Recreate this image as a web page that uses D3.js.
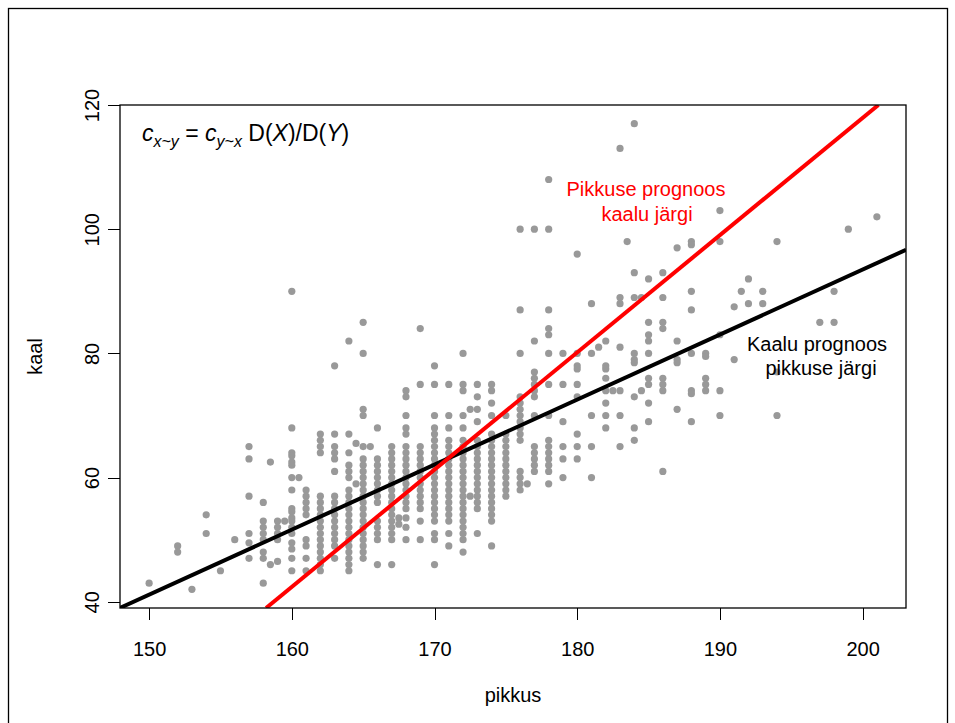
<!DOCTYPE html>
<html>
<head>
<meta charset="utf-8">
<script src="https://d3js.org/d3.v7.min.js"></script>
<style>
  html, body { margin: 0; padding: 0; background: #fff; }
  svg { display: block; }
  text { font-family: "Liberation Sans", Arial, sans-serif; fill: #000; }
  .axis text { font-size: 20px; }
  .axis line { stroke: #000; stroke-width: 1px; shape-rendering: crispEdges; }
</style>
</head>
<body>
<svg id="chart"></svg>
<script>
// heights (pikkus, cm) and the weights (kaal, kg) seen in each column
const pikkusCols = [150, 152, 153, 154, 155, 156, 157, 158, 158.5, 159, 159.5, 160, 160.5, 161, 162, 163, 164, 164.5,
  165, 165.5, 166, 167, 167.5, 168, 169, 170, 171, 172, 172.5, 173, 174, 175, 176, 176.5, 177, 178, 179, 180,
  181, 181.5, 182, 182.5, 183, 183.5, 184, 184.5, 185, 186, 187, 188, 189, 190, 191, 191.5, 192, 193, 194,
  197, 198, 199, 201];
const kaalCols = [
  [43],
  [49, 48],
  [42],
  [54, 51],
  [45],
  [50],
  [65, 63, 57, 51, 49.5, 47],
  [56, 53, 52, 51, 50, 48, 47, 43],
  [62.5, 46],
  [53, 52, 51, 50, 46.5],
  [53],
  [90, 68, 64, 63.5, 62.5, 62, 60, 58, 55, 54.5, 53.5, 53, 52, 51, 49.5, 48.5, 47, 45],
  [60],
  [58, 57, 56, 55, 54, 50, 49, 47, 45],
  [67, 66, 65, 64, 57, 56, 55, 54, 53, 52, 51, 50, 49, 48, 47, 46, 45],
  [78, 67, 65, 64, 63, 61, 57, 56, 55, 54, 53, 52, 51, 50, 49, 47],
  [82, 67, 64, 62, 61, 60, 58, 57, 56, 55, 54, 53, 52, 51, 50, 49, 48, 47, 46, 45],
  [65.5, 59],
  [85, 80, 71, 70, 65, 63, 62, 61, 60, 59, 58, 57, 56, 55, 54, 53, 52, 51, 50, 49, 48, 47],
  [65],
  [68, 63, 62, 61, 60, 59, 58, 57, 56, 53, 52, 51, 50, 46],
  [65, 64, 63, 62, 61, 60, 59, 58, 57, 56, 55, 54, 53, 52, 51, 50, 46],
  [53.5, 52.5],
  [74, 73, 70, 68, 67, 65, 64, 63, 62, 61, 60, 59, 58, 57, 56, 55, 53.5, 52, 50],
  [84, 75, 65, 64, 63, 62, 61, 60, 59, 58, 57, 56, 55, 53, 50],
  [78, 75, 70, 68, 67, 66, 65, 64, 63, 62, 61, 60, 59, 58, 57, 56, 55, 54, 53, 51, 50, 46],
  [75, 70, 68, 66, 65, 64, 63, 62, 61, 60, 59, 58, 57, 56, 55, 54, 53, 51, 49],
  [80, 75, 74, 70, 68, 66, 65, 64, 63, 62, 61, 60, 59, 58, 57, 56, 55, 54, 53, 52, 51, 50, 48],
  [71, 57],
  [75, 73, 71, 69, 66, 65, 64, 63, 62, 61, 60, 59, 58, 57, 56, 55, 51],
  [75, 74, 72, 70, 67, 66, 65, 64, 63, 62, 61, 60, 59, 58, 57, 56, 55, 54, 53, 49],
  [70, 67, 66, 65, 64, 63, 62, 61, 60, 59, 58, 57],
  [100, 87, 80, 73, 72, 71, 70, 69, 68, 67, 66, 61, 60, 59, 58],
  [59],
  [100, 82, 77, 76, 75, 74, 73, 70, 65, 64, 63, 62, 61],
  [108, 100, 87, 84, 83, 80, 75, 70, 66, 65, 64, 63, 62, 61, 59],
  [80, 75, 69, 65, 63, 60],
  [96, 80, 78, 77.5, 75, 73, 67, 65, 63],
  [88, 80, 70, 65, 60],
  [81],
  [82, 78, 77.5, 76, 74, 72, 70, 68],
  [74],
  [113, 89, 88, 81, 74, 70, 65],
  [98],
  [117, 93, 89, 80, 79, 78.5, 73, 68, 66],
  [89, 74],
  [92, 85, 83, 82, 80, 76, 75, 72, 69],
  [93, 89, 85, 84, 76, 75, 74, 61],
  [97, 82, 79, 78.5, 71],
  [98, 97.5, 90, 87, 80, 74, 73.5, 69],
  [80, 79.5, 76, 75, 74],
  [103, 98, 83, 74, 70],
  [87.5, 79],
  [90],
  [92, 88],
  [90, 88],
  [98, 77, 70],
  [85],
  [90, 85],
  [100],
  [102]
];

// fitted lines
const kaalFit = [-115.9, 1.047];     // kaal = a + b * pikkus
const pikkusFit = [137.54, 0.5297];  // pikkus = c + d * kaal

const xTicks = [150, 160, 170, 180, 190, 200];
const yTicks = [40, 60, 80, 100, 120];

const width = 955, height = 723;
const plotLeft = 120, plotRight = 906, plotTop = 105, plotBottom = 608;

const points = [];
pikkusCols.forEach((p, i) => kaalCols[i].forEach(k => points.push({ p: p, k: k })));

const svg = d3.select("#chart").attr("width", width).attr("height", height);

// outer frame
svg.append("rect")
  .attr("x", 8.5).attr("y", 8.5)
  .attr("width", 939).attr("height", 730)
  .attr("fill", "none").attr("stroke", "#000").attr("stroke-width", 1.3);

const x = d3.scaleLinear().domain([147.96, 203.04]).range([plotLeft, plotRight]);
const y = d3.scaleLinear().domain([39, 120]).range([plotBottom, plotTop]);

svg.append("defs").append("clipPath").attr("id", "plotclip")
  .append("rect").attr("x", plotLeft).attr("y", plotTop)
  .attr("width", plotRight - plotLeft).attr("height", plotBottom - plotTop);

// points
svg.append("g")
  .selectAll("circle")
  .data(points)
  .join("circle")
  .attr("cx", d => x(d.p))
  .attr("cy", d => y(d.k))
  .attr("r", 3.6)
  .attr("fill", "#999999");

const lines = svg.append("g").attr("clip-path", "url(#plotclip)");

// kaal ~ pikkus
const xd = x.domain();
lines.append("line")
  .attr("x1", x(xd[0])).attr("y1", y(kaalFit[0] + kaalFit[1] * xd[0]))
  .attr("x2", x(xd[1])).attr("y2", y(kaalFit[0] + kaalFit[1] * xd[1]))
  .attr("stroke", "#000").attr("stroke-width", 4);

// pikkus ~ kaal
const yd = y.domain();
lines.append("line")
  .attr("x1", x(pikkusFit[0] + pikkusFit[1] * yd[0])).attr("y1", y(yd[0]))
  .attr("x2", x(pikkusFit[0] + pikkusFit[1] * yd[1])).attr("y2", y(yd[1]))
  .attr("stroke", "#ff0000").attr("stroke-width", 4);

// box
svg.append("rect")
  .attr("x", plotLeft).attr("y", plotTop)
  .attr("width", plotRight - plotLeft).attr("height", plotBottom - plotTop)
  .attr("fill", "none").attr("stroke", "#000").attr("stroke-width", 1.3);

// x axis
const gx = svg.append("g")
  .attr("class", "axis")
  .attr("transform", `translate(0,${plotBottom})`)
  .call(d3.axisBottom(x).tickValues(xTicks).tickSize(12).tickSizeOuter(0).tickFormat(d3.format("d")));
gx.select(".domain").remove();
gx.selectAll("text").attr("y", 0).attr("dy", null).attr("transform", "translate(0,48)");

// y axis
const gy = svg.append("g")
  .attr("class", "axis")
  .attr("transform", `translate(${plotLeft},0)`)
  .call(d3.axisLeft(y).tickValues(yTicks).tickSize(12).tickSizeOuter(0).tickFormat(d3.format("d")));
gy.select(".domain").remove();
gy.selectAll("text")
  .attr("x", 0).attr("dy", null).attr("y", 0)
  .attr("text-anchor", "middle")
  .attr("transform", "translate(-21,0) rotate(-90)");

// axis titles
svg.append("text")
  .attr("x", (plotLeft + plotRight) / 2).attr("y", 702)
  .attr("text-anchor", "middle").style("font-size", "20px")
  .text("pikkus");
svg.append("text")
  .attr("transform", `translate(42,${(plotTop + plotBottom) / 2}) rotate(-90)`)
  .attr("text-anchor", "middle").style("font-size", "20px")
  .text("kaal");

// formula
const f = svg.append("text").attr("x", 142).attr("y", 141).style("font-size", "23px");
f.append("tspan").style("font-style", "italic").text("c");
f.append("tspan").style("font-style", "italic").style("font-size", "16px").attr("dy", 6).text("x~y");
f.append("tspan").attr("dy", -6).text(" = ");
f.append("tspan").style("font-style", "italic").text("c");
f.append("tspan").style("font-style", "italic").style("font-size", "16px").attr("dy", 6).text("y~x");
f.append("tspan").attr("dy", -6).text(" D(");
f.append("tspan").style("font-style", "italic").text("X");
f.append("tspan").text(")/D(");
f.append("tspan").style("font-style", "italic").text("Y");
f.append("tspan").text(")");

// line labels
const redLabel = svg.append("g").style("font-size", "20px");
redLabel.append("text").attr("x", 646).attr("y", 196).attr("text-anchor", "middle")
  .style("fill", "#ff0000").text("Pikkuse prognoos");
redLabel.append("text").attr("x", 647).attr("y", 221).attr("text-anchor", "middle")
  .style("fill", "#ff0000").text("kaalu järgi");

const blackLabel = svg.append("g").style("font-size", "20px");
blackLabel.append("text").attr("x", 817).attr("y", 351).attr("text-anchor", "middle").text("Kaalu prognoos");
blackLabel.append("text").attr("x", 821).attr("y", 375).attr("text-anchor", "middle").text("pikkuse järgi");
</script>
</body>
</html>
